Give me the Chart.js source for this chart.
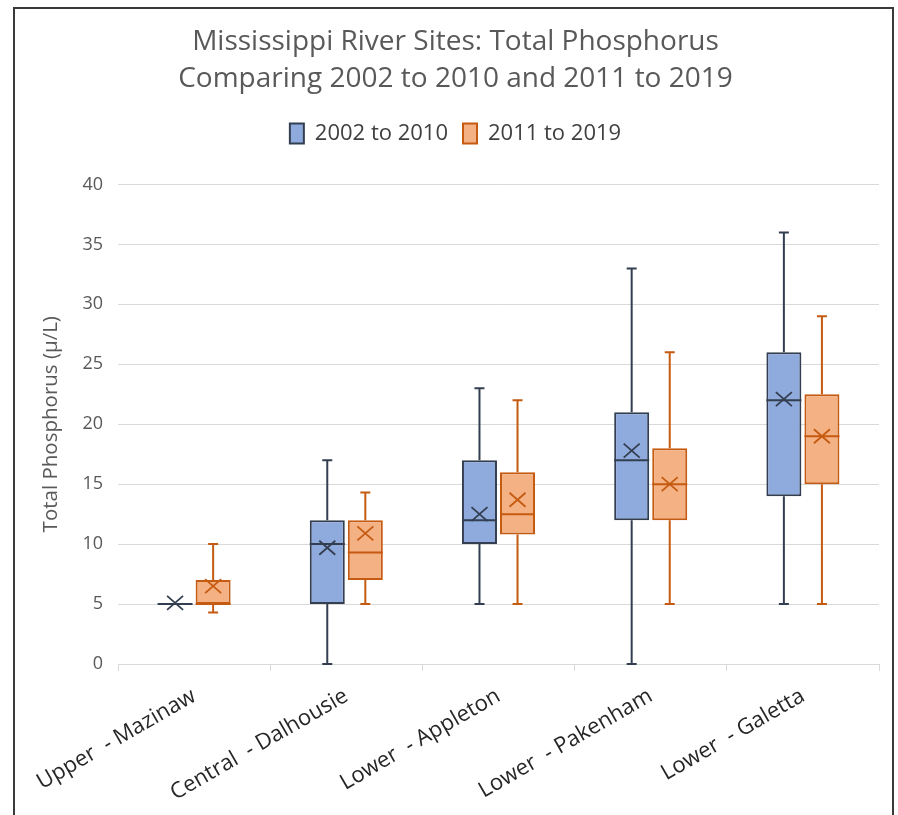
<!DOCTYPE html>
<html>
<head>
<meta charset="utf-8">
<script src="https://cdn.jsdelivr.net/npm/chart.js@4"></script>
<style>
body { margin: 0; background: #fff; overflow: hidden; }
#frame { position: absolute; left: 13px; top: 7px; width: 877px; height: 830px; border: 2px solid #3a3a3a; background: #fff; }
#wrap { position: absolute; left: 0; top: 0; width: 877px; height: 808px; }
</style>
</head>
<body>
<div id="frame"><div id="wrap"><canvas id="myChart"></canvas></div></div>
<script>
// ---------------------------------------------------------------- data
var site_labels = ['Upper  - Mazinaw', 'Central  - Dalhousie', 'Lower  - Appleton', 'Lower  - Pakenham', 'Lower  - Galetta'];
var y_ticks = [0, 5, 10, 15, 20, 25, 30, 35, 40];

// 2002 to 2010
var early_min    = [5, 0, 5, 0, 5];
var early_q1     = [5, 5, 10, 12, 14];
var early_median = [5, 10, 12, 17, 22];
var early_q3     = [5, 12, 17, 21, 26];
var early_max    = [5, 17, 23, 33, 36];
var early_mean   = [5.1, 9.7, 12.5, 17.8, 22.1];

// 2011 to 2019
var late_min    = [4.3, 5, 5, 5, 5];
var late_q1     = [5, 7, 10.8, 12, 15];
var late_median = [5, 9.3, 12.5, 15, 19];
var late_q3     = [7, 12, 16, 18, 22.5];
var late_max    = [10, 14.3, 22, 26, 29];
var late_mean   = [6.5, 10.9, 13.7, 15, 19];

var stats = [
    { min: early_min, median: early_median, max: early_max, mean: early_mean, line: '#333F50' },
    { min: late_min, median: late_median, max: late_max, mean: late_mean, line: '#C55A11' }
];

function boxes(q1, q3) {
    var out = [];
    for (var i = 0; i < q1.length; i++) out.push([q1[i], q3[i]]);
    return out;
}

// whiskers, medians and mean crosses on top of the floating bars
const boxPlugin = {
    id: 'boxPlugin',
    afterDatasetsDraw(chart) {
        const ctx = chart.ctx;
        const y = chart.scales.y;
        chart.data.datasets.forEach(function (ds, d) {
            const meta = chart.getDatasetMeta(d);
            const s = stats[d];
            meta.data.forEach(function (bar, i) {
                const x = bar.x;
                const w = bar.width;
                const q1 = ds.data[i][0], q3 = ds.data[i][1];
                ctx.save();
                ctx.strokeStyle = s.line;
                ctx.lineWidth = 2;
                ctx.beginPath();
                if (s.min[i] < q1) {
                    ctx.moveTo(x, y.getPixelForValue(q1));
                    ctx.lineTo(x, y.getPixelForValue(s.min[i]));
                    ctx.moveTo(x - 5, y.getPixelForValue(s.min[i]));
                    ctx.lineTo(x + 5, y.getPixelForValue(s.min[i]));
                }
                if (s.max[i] > q3) {
                    ctx.moveTo(x, y.getPixelForValue(q3));
                    ctx.lineTo(x, y.getPixelForValue(s.max[i]));
                    ctx.moveTo(x - 5, y.getPixelForValue(s.max[i]));
                    ctx.lineTo(x + 5, y.getPixelForValue(s.max[i]));
                }
                // median
                const my = y.getPixelForValue(s.median[i]);
                ctx.moveTo(x - w / 2, my);
                ctx.lineTo(x + w / 2, my);
                ctx.stroke();
                // mean cross
                const ay = y.getPixelForValue(s.mean[i]);
                ctx.lineWidth = 1.8;
                ctx.beginPath();
                ctx.moveTo(x - 8, ay - 7);
                ctx.lineTo(x + 8, ay + 7);
                ctx.moveTo(x + 8, ay - 7);
                ctx.lineTo(x - 8, ay + 7);
                ctx.stroke();
                ctx.restore();
            });
        });
    }
};

// extra room under the legend
const legendGap = {
    id: 'legendGap',
    beforeInit(chart) {
        const fit = chart.legend.fit;
        chart.legend.fit = function () {
            fit.bind(chart.legend)();
            this.height += 30;
        };
    }
};

const ctx = document.getElementById('myChart').getContext('2d');
const myChart = new Chart(ctx, {
    type: 'bar',
    data: {
        labels: site_labels,
        datasets: [{
            label: '2002 to 2010',
            data: boxes(early_q1, early_q3),
            backgroundColor: '#8FAADC',
            borderColor: '#333F50',
            borderWidth: 2,
            borderSkipped: false,
            categoryPercentage: 0.5,
            barPercentage: 0.92
        }, {
            label: '2011 to 2019',
            data: boxes(late_q1, late_q3),
            backgroundColor: '#F4B183',
            borderColor: '#C55A11',
            borderWidth: 2,
            borderSkipped: false,
            categoryPercentage: 0.5,
            barPercentage: 0.92
        }]
    },
    options: {
        responsive: true,
        maintainAspectRatio: false,
        animation: false,
        layout: { padding: { left: 17, right: 13, top: 14, bottom: 0 } },
        plugins: {
            title: {
                display: true,
                text: ['Mississippi River Sites: Total Phosphorus', 'Comparing 2002 to 2010 and 2011 to 2019'],
                color: '#595959',
                font: { family: 'Open Sans', size: 28, weight: 'normal', lineHeight: 1.33 },
                padding: { top: 0, bottom: 10 }
            },
            legend: {
                labels: {
                    color: '#404040',
                    font: { family: 'Open Sans', size: 22 },
                    boxWidth: 14,
                    boxHeight: 20,
                    padding: 15
                }
            },
            tooltip: { enabled: false }
        },
        scales: {
            x: {
                afterFit: function (axis) {
                    axis.height = 153;
                    axis.paddingLeft = 0;
                    axis.paddingRight = 0;
                },
                grid: { display: true, drawOnChartArea: false, drawTicks: true, tickLength: 7, color: '#D9D9D9', offset: true },
                border: { color: '#D9D9D9', width: 1 },
                ticks: {
                    color: '#262626',
                    font: { family: 'Open Sans', size: 22 },
                    minRotation: 30,
                    maxRotation: 30,
                    padding: 12
                }
            },
            y: {
                min: 0,
                max: 40,
                afterFit: function (axis) { axis.width = 86; },
                afterBuildTicks: function (axis) {
                    axis.ticks = y_ticks.map(function (v) { return { value: v }; });
                },
                grid: { color: '#D9D9D9', drawTicks: false },
                border: { display: false },
                ticks: { color: '#595959', font: { family: 'Open Sans', size: 18 }, padding: 15 },
                title: {
                    display: true,
                    text: 'Total Phosphorus (µ/L)',
                    color: '#595959',
                    font: { family: 'Open Sans', size: 20.5 },
                    padding: { top: 7, bottom: 0 }
                }
            }
        }
    },
    plugins: [boxPlugin, legendGap]
});
</script>
</body>
</html>
